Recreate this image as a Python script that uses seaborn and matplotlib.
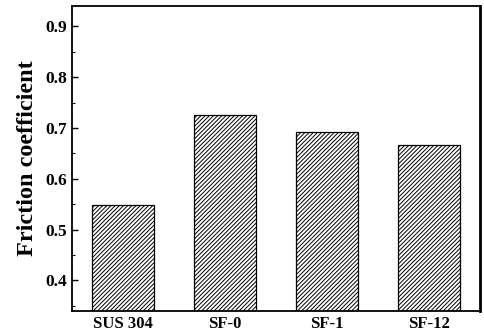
import pandas as pd
import matplotlib.pyplot as plt
import seaborn as sns
from matplotlib.ticker import MultipleLocator

# ---- Data ----
samples = ["SUS 304", "SF-0", "SF-1", "SF-12"]
friction = [0.548, 0.726, 0.693, 0.666]

df = pd.DataFrame({"Sample": samples, "Friction": friction})

# ---- Style ----
sns.set_style("ticks")
plt.rcParams["font.family"] = ["Liberation Serif", "DejaVu Serif"]
plt.rcParams["hatch.linewidth"] = 0.7
plt.rcParams["hatch.color"] = "#1a1a1a"
plt.rcParams["text.color"] = "black"
plt.rcParams["axes.edgecolor"] = "black"
plt.rcParams["xtick.color"] = "black"
plt.rcParams["ytick.color"] = "black"

fig = plt.figure(figsize=(4.84, 3.34), dpi=100)
ax = fig.add_axes([0.149, 0.069, 0.843, 0.913])

sns.barplot(data=df, x="Sample", y="Friction", color="white",
            edgecolor="black", linewidth=0.9, width=0.61, ax=ax)
for p in ax.patches:
    p.set_hatch("////////")

ax.set_xlim(-0.5, 3.5)
ax.set_ylim(0.34, 0.94)
ax.yaxis.set_major_locator(MultipleLocator(0.1))
ax.yaxis.set_minor_locator(MultipleLocator(0.05))
ax.tick_params(axis="y", which="major", direction="in", length=4, width=1,
               labelsize=12.5)
ax.tick_params(axis="y", which="minor", direction="in", length=2, width=0.8)
ax.tick_params(axis="x", direction="in", length=3, width=1, labelsize=12)
for lab in ax.get_xticklabels() + ax.get_yticklabels():
    lab.set_fontweight("bold")

ax.set_xlabel("")
ax.set_ylabel("Friction coefficient", fontsize=17.5, fontweight="bold",
              color="black", labelpad=5)

for side in ["left", "bottom", "top"]:
    ax.spines[side].set_linewidth(1.3)
ax.spines["right"].set_linewidth(2)

fig.savefig("out.png", dpi=100)
